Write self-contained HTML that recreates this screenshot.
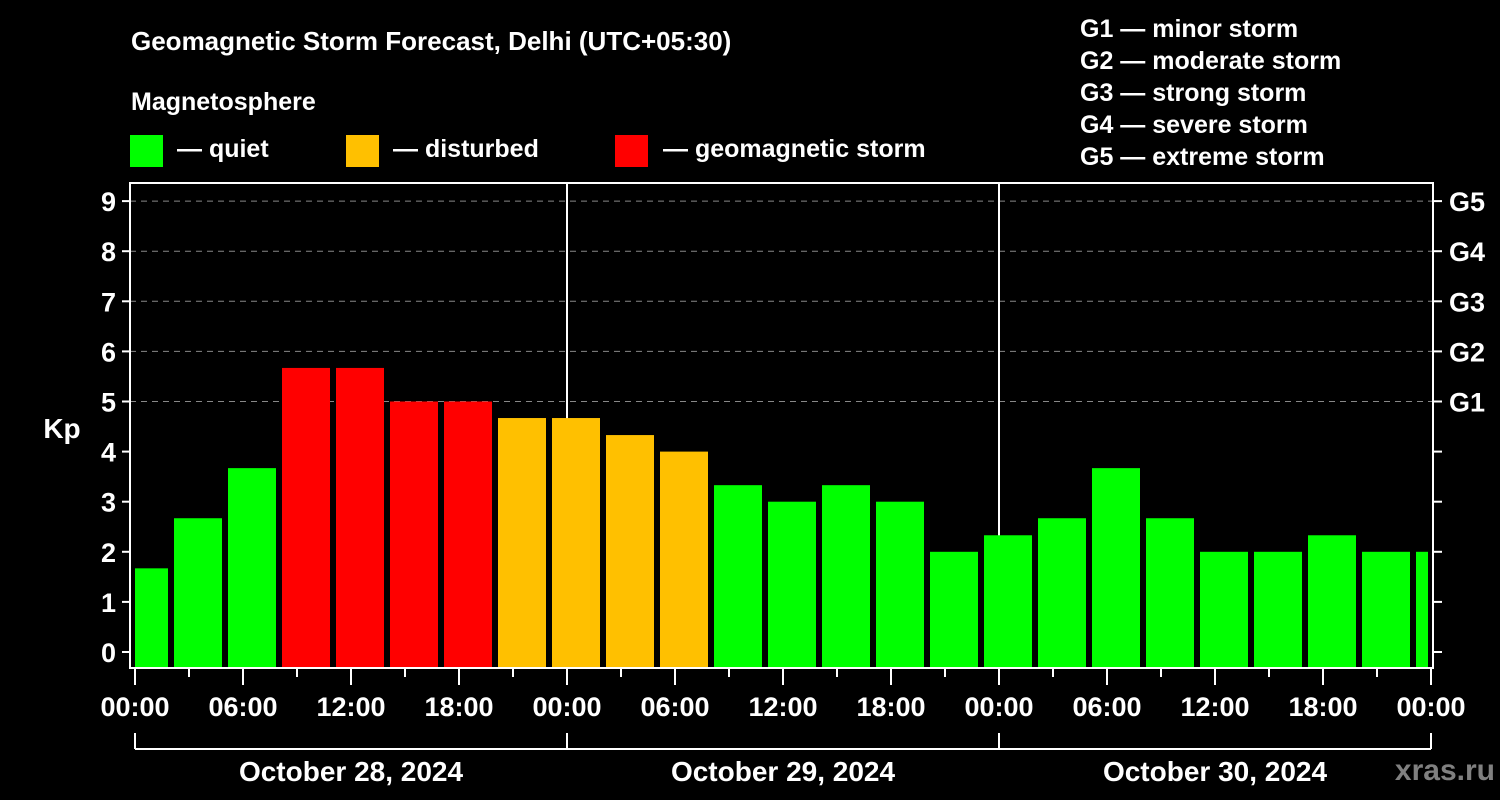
<!DOCTYPE html>
<html><head><meta charset="utf-8"><style>
body{margin:0;background:#000;width:1500px;height:800px;overflow:hidden}
svg{display:block;font-family:"Liberation Sans",sans-serif;font-weight:bold}
</style></head><body>
<svg id="c" width="1500" height="800" viewBox="0 0 1500 800">
<text x="131" y="50" fill="#fff" font-size="26">Geomagnetic Storm Forecast, Delhi (UTC+05:30)</text>
<text x="131" y="110" fill="#fff" font-size="25">Magnetosphere</text>
<g><rect x="130" y="135" width="33" height="32" fill="#00ff00"/><text x="177" y="157" fill="#fff" font-size="25">— quiet</text></g>
<g><rect x="346" y="135" width="33" height="32" fill="#ffc000"/><text x="393" y="157" fill="#fff" font-size="25">— disturbed</text></g>
<g><rect x="615" y="135" width="33" height="32" fill="#ff0000"/><text x="663" y="157" fill="#fff" font-size="25">— geomagnetic storm</text></g>
<g fill="#fff" font-size="25">
<text x="1080" y="37">G1 — minor storm</text>
<text x="1080" y="69">G2 — moderate storm</text>
<text x="1080" y="101">G3 — strong storm</text>
<text x="1080" y="133">G4 — severe storm</text>
<text x="1080" y="165">G5 — extreme storm</text>
</g>
<text x="62" y="438" fill="#fff" font-size="28" text-anchor="middle">Kp</text>
<text x="1495" y="780" fill="#808080" font-size="30" text-anchor="end">xras.ru</text>
<g id="grid"></g><g id="bars"></g><g id="axes"></g>
</svg>
<script>
const kpValues=[1.67,2.67,3.67,5.67,5.67,5,5,4.67,4.67,4.33,4,3.33,3,3.33,3,2,2.33,2.67,3.67,2.67,2,2,2.33,2,2];
const yTicks=[0,1,2,3,4,5,6,7,8,9];
const gLabels=["G1","G2","G3","G4","G5"];
const xTickLabels=["00:00","06:00","12:00","18:00","00:00","06:00","12:00","18:00","00:00","06:00","12:00","18:00","00:00"];
const dayLabels=["October 28, 2024","October 29, 2024","October 30, 2024"];
const firstBarHour=-1, barHours=3;
const NS="http://www.w3.org/2000/svg";
const L=130,R=1433,T=183,B=668,X0=135,PXH=18;
const y=k=>652-50.1*k, x=h=>X0+h*PXH;
function mk(p,tag,a){const e=document.createElementNS(NS,tag);for(const k in a)e.setAttribute(k,a[k]);document.getElementById(p).appendChild(e);return e;}
yTicks.filter(k=>k>=5).forEach(k=>{const e=mk('grid','line',{x1:L,x2:R,y1:y(k),y2:y(k),stroke:'#888','stroke-dasharray':'6,5','stroke-width':1});

});
[1,2].forEach(d=>{const e=mk('grid','line',{x1:x(24*d),x2:x(24*d),y1:T,y2:B,stroke:'#fff','stroke-width':2});

});
kpValues.forEach((v,i)=>{const h0=firstBarHour+i*barHours;let x1=x(h0)+3,x2=x(h0+barHours)-3;x1=Math.max(x1,X0);x2=Math.min(x2,R-5);
const col=v>=5?'#ff0000':v>=4?'#ffc000':'#00ff00';
const e=mk('bars','rect',{x:x1,y:y(v),width:x2-x1,height:B-y(v),fill:col});

});
const f=mk('axes','rect',{x:L,y:T,width:R-L,height:B-T,fill:'none',stroke:'#fff','stroke-width':2});


yTicks.forEach(k=>{mk('axes','line',{x1:L-8,x2:L,y1:y(k),y2:y(k),stroke:'#fff','stroke-width':2});
mk('axes','line',{x1:R,x2:R+9,y1:y(k),y2:y(k),stroke:'#fff','stroke-width':2});
const t=mk('axes','text',{x:116,y:y(k)+10,fill:'#fff','font-size':27,'text-anchor':'end'});t.textContent=k;

});
gLabels.forEach((g,i)=>{const t=mk('axes','text',{x:1449,y:y(5+i)+10,fill:'#fff','font-size':27});t.textContent=g;

});
for(let h=0;h<=72;h+=3){mk('axes','line',{x1:x(h),x2:x(h),y1:B,y2:h%6?677:685,stroke:'#fff','stroke-width':2});}
xTickLabels.forEach((s,i)=>{const t=mk('axes','text',{x:x(i*6),y:716,fill:'#fff','font-size':27,'text-anchor':'middle'});t.textContent=s;

});
mk('axes','line',{x1:x(0),x2:x(72),y1:749,y2:749,stroke:'#fff','stroke-width':2});
for(let d=0;d<=3;d++)mk('axes','line',{x1:x(24*d),x2:x(24*d),y1:733,y2:749,stroke:'#fff','stroke-width':2});
dayLabels.forEach((s,i)=>{const t=mk('axes','text',{x:x(24*i+12),y:781,fill:'#fff','font-size':28,'text-anchor':'middle'});t.textContent=s;

});
</script>
</body></html>
